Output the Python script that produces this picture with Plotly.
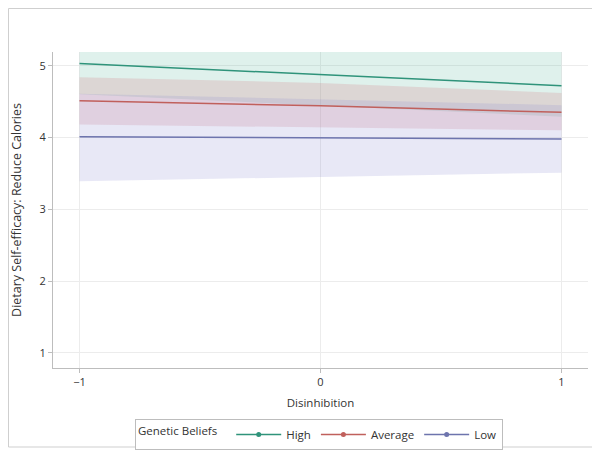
import plotly.graph_objects as go

# predicted margins at Disinhibition = -1, 0, 1
disinhibition = [-1, 0, 1]
groups = ["High", "Average", "Low"]
high_mean = [5.03, 4.88, 4.72]
high_lo = [4.60, 4.45, 4.29]
high_hi = [5.46, 5.33, 5.20]
avg_mean = [4.51, 4.44, 4.35]
avg_lo = [4.18, 4.14, 4.10]
avg_hi = [4.84, 4.76, 4.62]
low_mean = [4.01, 3.99, 3.98]
low_lo = [3.39, 3.45, 3.51]
low_hi = [4.61, 4.53, 4.45]

x_ticks = [-1, 0, 1]
y_ticks = [1, 2, 3, 4, 5]

line_colors = ["#2f937a", "#c0605c", "#6d74ad"]
band_colors = ["rgba(80,180,150,0.18)", "rgba(210,110,120,0.20)", "rgba(140,140,210,0.20)"]

series = [
    (high_mean, high_lo, high_hi),
    (avg_mean, avg_lo, avg_hi),
    (low_mean, low_lo, low_hi),
]

fig = go.Figure()

for i, (mean, lo, hi) in enumerate(series):
    fig.add_trace(go.Scatter(x=disinhibition, y=hi, mode="lines", line=dict(width=0),
                             showlegend=False, hoverinfo="skip"))
    fig.add_trace(go.Scatter(x=disinhibition, y=lo, mode="lines", line=dict(width=0),
                             fill="tonexty", fillcolor=band_colors[i],
                             showlegend=False, hoverinfo="skip"))

for i, (mean, lo, hi) in enumerate(series):
    fig.add_trace(go.Scatter(x=disinhibition, y=mean, mode="lines",
                             line=dict(color=line_colors[i], width=1.5),
                             name=groups[i], showlegend=False))

# legend entries with a dot marker on the line
for i, g in enumerate(groups):
    fig.add_trace(go.Scatter(x=[None], y=[None], mode="lines+markers", name=g,
                             line=dict(color=line_colors[i], width=1.5),
                             marker=dict(color=line_colors[i], size=5)))

axis_common = dict(showline=True, linecolor="#bdbdbd", linewidth=1,
                   showgrid=True, gridcolor="#ececec", gridwidth=1,
                   ticks="outside", tickcolor="#bdbdbd", ticklen=4,
                   zeroline=False, automargin=False,
                   tickfont=dict(size=11, color="#333"))

fig.update_xaxes(range=[-1.11, 1.11], tickvals=x_ticks, title=dict(text="Disinhibition",
                 font=dict(size=11.5, color="#333"), standoff=10), **axis_common)
fig.update_yaxes(range=[0.79, 5.19], tickvals=y_ticks,
                 title=dict(text="Dietary Self-efficacy: Reduce Calories",
                            font=dict(size=12.5, color="#333"), standoff=22), **axis_common)

# thin frame around the whole graph
fig.add_shape(type="rect", xref="paper", yref="paper",
              x0=-0.0832, x1=1.0168, y0=-0.25, y1=1.1377,
              line=dict(color="#cfcfcf", width=1))

# page body has an 8px margin, so the figure is sized and offset to match
fig.update_layout(
    width=592, height=442,
    margin=dict(l=45, r=12, t=44, b=82, autoexpand=False),
    paper_bgcolor="white", plot_bgcolor="white",
    font=dict(family="Open Sans", size=11, color="#333"),
    legend=dict(orientation="h", x=0.497, xanchor="center", y=-0.161, yanchor="top",
                traceorder="normal",
                title=dict(text="Genetic Beliefs  ", font=dict(size=11.5), side="left"),
                bordercolor="#bdbdbd", borderwidth=1, font=dict(size=11.5),
                itemwidth=45),
)

fig.write_html("out.html")
